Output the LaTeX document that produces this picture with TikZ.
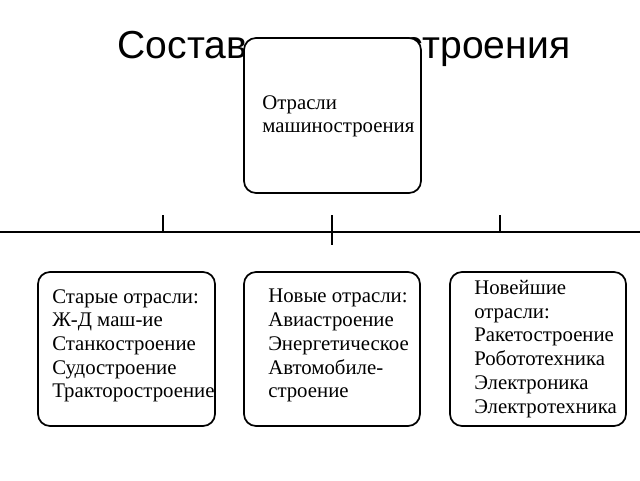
\documentclass[tikz,border=0pt]{standalone}
\usepackage{fontspec}
\setmainfont{Liberation Serif}
\newfontfamily\titlefont{Liberation Sans}
\begin{document}
\begin{tikzpicture}[x=0.75pt,y=-0.75pt,
  box/.style={draw,line width=1.3pt,rounded corners=9pt,fill=white},
  txt/.style={anchor=north west,align=left,inner sep=0pt,font=\fontsize{15.6pt}{17.8pt}\selectfont},
  ln/.style={line width=1.3pt}]
\useasboundingbox (0,0) rectangle (640,480);
\node[anchor=base,inner sep=0pt,font=\titlefont\fontsize{29.3pt}{32pt}\selectfont] (title) at (344,58) {Состав машиностроения};
\draw[box] (244,38) rectangle (421,193);
\node[txt] (t0) at (262,95) {Отрасли\\машиностроения};
\coordinate (l) at (0,232); \coordinate (r) at (640,232);
\draw[ln] (l) -- (r);
\coordinate (a1) at (163,215); \coordinate (a2) at (163,232);
\coordinate (b1) at (332,215); \coordinate (b2) at (332,245);
\coordinate (c1) at (500,215); \coordinate (c2) at (500,232);
\draw[ln] (a1)--(a2); \draw[ln] (b1)--(b2); \draw[ln] (c1)--(c2);
\draw[box] (38,272) rectangle (215,426);
\draw[box] (244,272) rectangle (420,426);
\draw[box] (450,272) rectangle (626,426);
\node[txt] (t1) at (52,289) {Старые отрасли:\\Ж-Д маш-ие\\Станкостроение\\Судостроение\\Тракторостроение};
\node[txt] (t2) at (268,289) {Новые отрасли:\\Авиастроение\\Энергетическое\\Автомобиле-\\строение};
\node[txt] (t3) at (474,280) {Новейшие\\отрасли:\\Ракетостроение\\Робототехника\\Электроника\\Электротехника};
\end{tikzpicture}
\end{document}
